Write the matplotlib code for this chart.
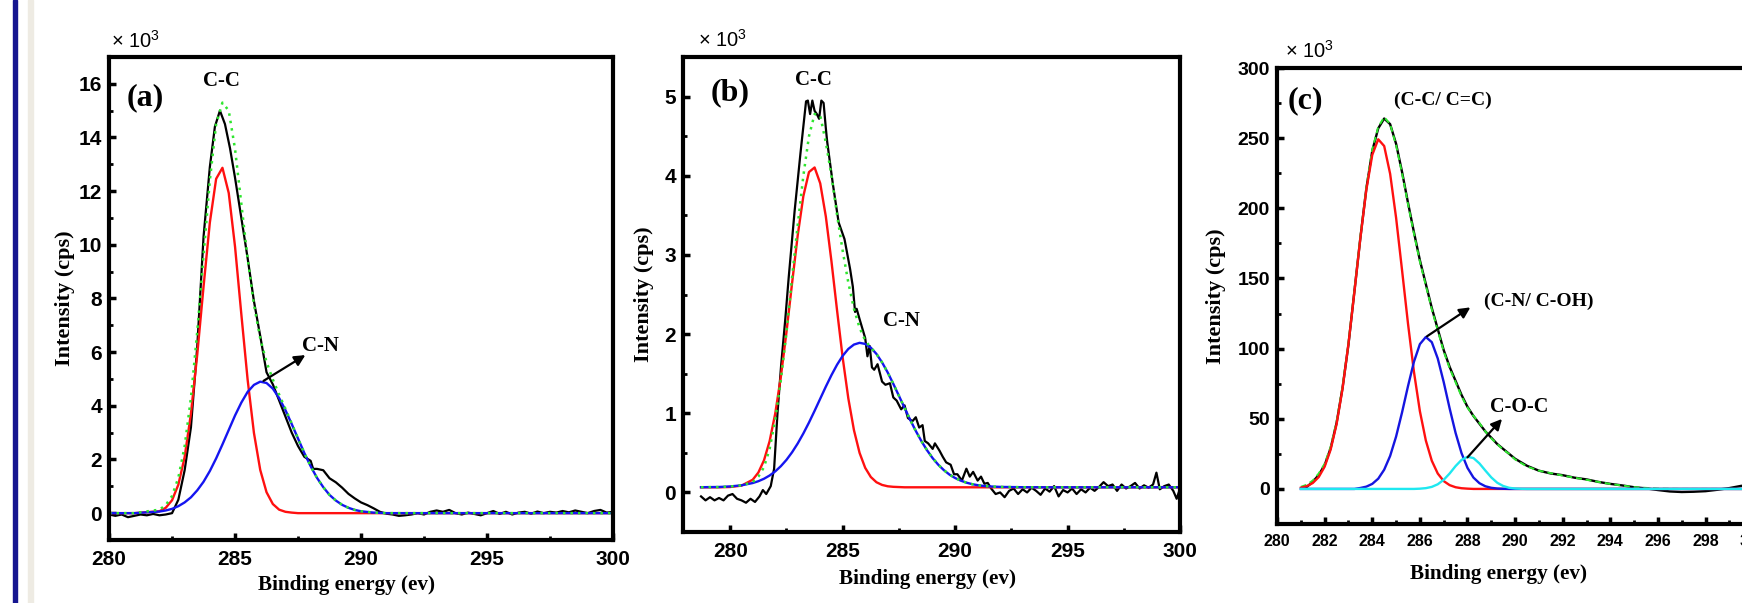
import matplotlib
matplotlib.use("Agg")
import matplotlib.pyplot as plt
from matplotlib.ticker import MultipleLocator
from matplotlib.patches import Rectangle
import numpy as np

plt.rcParams["font.family"] = ["Liberation Sans", "DejaVu Sans"]
plt.rcParams["font.weight"] = "bold"
plt.rcParams["mathtext.default"] = "regular"
SERIF = ["Liberation Serif", "DejaVu Serif"]

# ---------------- panel (a) ----------------
xa_fit = [280.0, 281.0, 282.0, 282.25, 282.5, 282.75, 283.0, 283.25, 283.5, 283.75,
          284.0, 284.25, 284.5, 284.75, 285.0, 285.25, 285.5, 285.75, 286.0, 286.25,
          286.5, 286.75, 287.0, 287.25, 287.5, 287.75, 288.0, 288.25, 288.5, 288.75,
          289.0, 289.25, 289.5, 289.75, 290.0, 290.5, 291.0, 292.0, 294.0, 296.0,
          298.0, 300.0]
red_a = [0, 0, 0.07, 0.20, 0.48, 1.06, 2.09, 3.71, 5.91, 8.44,
         10.83, 12.46, 12.87, 11.93, 9.93, 7.41, 4.97, 2.99, 1.61, 0.78,
         0.34, 0.13, 0.05, 0.02, 0, 0, 0, 0, 0, 0,
         0, 0, 0, 0, 0, 0, 0, 0, 0, 0,
         0, 0]
blue_a = [0, 0, 0.06, 0.10, 0.16, 0.26, 0.40, 0.59, 0.85, 1.17,
          1.57, 2.04, 2.56, 3.10, 3.64, 4.12, 4.52, 4.78, 4.90, 4.85,
          4.64, 4.29, 3.84, 3.32, 2.78, 2.24, 1.75, 1.32, 0.97, 0.68,
          0.47, 0.31, 0.20, 0.12, 0.07, 0.02, 0, 0, 0, 0,
          0, 0]
env_a = [0, 0, 0.13, 0.30, 0.64, 1.32, 2.49, 4.30, 6.76, 9.61,
         12.40, 14.50, 15.30, 15.00, 13.57, 11.53, 9.49, 7.77, 6.51, 5.63,
         4.98, 4.42, 3.89, 3.34, 2.78, 2.24, 1.75, 1.32, 0.97, 0.68,
         0.47, 0.31, 0.20, 0.12, 0.07, 0.02, 0, 0, 0, 0,
         0, 0]
raw_a = np.array([
    (280.0, -0.05), (280.25, -0.1), (280.5, -0.05), (280.75, -0.15), (281.0, -0.1),
    (281.25, -0.05), (281.5, -0.08), (281.75, -0.03), (282.0, -0.08), (282.25, -0.05),
    (282.5, 0.0), (282.75, 0.5), (283.0, 1.6), (283.25, 3.2), (283.5, 6.2),
    (283.75, 10.3), (284.0, 12.9), (284.2, 14.4), (284.4, 15.0), (284.6, 14.5),
    (284.8, 13.6), (285.0, 12.5), (285.25, 11.0), (285.5, 9.5), (285.75, 7.9),
    (286.0, 6.6), (286.25, 5.25), (286.5, 4.8), (286.75, 4.2), (287.0, 3.6),
    (287.25, 3.0), (287.5, 2.5), (287.75, 2.1), (288.0, 1.95), (288.1, 1.65),
    (288.25, 1.65), (288.5, 1.6), (288.75, 1.3), (289.0, 1.15), (289.25, 0.95),
    (289.5, 0.72), (289.75, 0.55), (290.0, 0.4), (290.25, 0.3), (290.5, 0.18),
    (290.75, 0.05), (291.0, -0.02), (291.25, -0.05), (291.5, -0.1), (291.75, -0.08),
    (292.0, -0.05), (292.25, 0.0), (292.5, -0.05), (292.75, 0.05), (293.0, 0.1),
    (293.25, 0.05), (293.5, 0.12), (293.75, 0.0), (294.0, -0.05), (294.25, 0.02),
    (294.5, -0.03), (294.75, -0.08), (295.0, 0.0), (295.25, 0.08), (295.5, -0.03),
    (295.75, 0.05), (296.0, -0.05), (296.25, 0.02), (296.5, 0.05), (296.75, -0.02),
    (297.0, 0.06), (297.25, 0.0), (297.5, 0.05), (297.75, 0.02), (298.0, 0.08),
    (298.25, 0.03), (298.5, 0.1), (298.75, 0.05), (299.0, 0.0), (299.25, 0.08),
    (299.5, 0.12), (299.75, 0.02), (300.0, 0.05)])

# ---------------- panel (b) ----------------
xb_fit = [278.7, 279.5, 280.0, 280.5, 281.0, 281.25, 281.5, 281.75, 282.0, 282.25,
          282.5, 282.75, 283.0, 283.25, 283.5, 283.75, 284.0, 284.25, 284.5, 284.75,
          285.0, 285.25, 285.5, 285.75, 286.0, 286.25, 286.5, 286.75, 287.0, 287.25,
          287.5, 287.75, 288.0, 288.25, 288.5, 288.75, 289.0, 289.25, 289.5, 289.75,
          290.0, 290.25, 290.5, 290.75, 291.0, 291.25, 291.5, 291.75, 292.0, 293.0,
          294.0, 295.0, 296.0, 297.0, 298.0, 299.0, 300.0]
red_b = [0.065, 0.065, 0.069, 0.086, 0.161, 0.252, 0.406, 0.648, 0.997, 1.462,
         2.027, 2.647, 3.249, 3.743, 4.047, 4.105, 3.905, 3.485, 2.919, 2.297,
         1.700, 1.188, 0.787, 0.500, 0.311, 0.195, 0.129, 0.095, 0.078, 0.071,
         0.068, 0.065, 0.065, 0.065, 0.065, 0.065, 0.065, 0.065, 0.065, 0.065,
         0.065, 0.065, 0.065, 0.065, 0.065, 0.065, 0.065, 0.065, 0.065, 0.065,
         0.065, 0.065, 0.065, 0.065, 0.065, 0.065, 0.065]
blue_b = [0.066, 0.069, 0.076, 0.090, 0.119, 0.142, 0.173, 0.214, 0.266, 0.332,
          0.412, 0.508, 0.619, 0.745, 0.883, 1.031, 1.184, 1.337, 1.482, 1.614,
          1.726, 1.813, 1.868, 1.890, 1.876, 1.829, 1.750, 1.643, 1.516, 1.372,
          1.221, 1.068, 0.918, 0.777, 0.648, 0.533, 0.433, 0.350, 0.281, 0.225,
          0.182, 0.149, 0.124, 0.105, 0.092, 0.083, 0.077, 0.073, 0.070, 0.066,
          0.065, 0.065, 0.065, 0.065, 0.065, 0.065, 0.065]
env_b = [0.066, 0.068, 0.075, 0.090, 0.130, 0.200, 0.320, 0.550, 0.920, 1.420,
         2.020, 2.720, 3.380, 4.000, 4.500, 4.780, 4.760, 4.420, 4.000, 3.500,
         3.050, 2.650, 2.320, 2.080, 1.920, 1.830, 1.750, 1.643, 1.516, 1.372,
         1.221, 1.068, 0.918, 0.777, 0.648, 0.533, 0.433, 0.350, 0.281, 0.225,
         0.182, 0.149, 0.124, 0.105, 0.092, 0.083, 0.077, 0.073, 0.070, 0.066,
         0.065, 0.065, 0.065, 0.065, 0.065, 0.065, 0.065]
raw_b = np.array([
    (278.7, -0.05), (278.9, -0.1), (279.1, -0.06), (279.3, -0.1), (279.5, -0.07),
    (279.7, -0.1), (279.9, -0.04), (280.1, -0.02), (280.3, -0.08), (280.5, -0.1),
    (280.7, -0.13), (280.9, -0.08), (281.1, -0.12), (281.3, -0.05), (281.45, 0.03),
    (281.6, -0.02), (281.8, 0.08), (281.95, 0.3), (282.1, 1.0), (282.26, 1.6),
    (282.45, 2.2), (282.6, 2.72), (282.86, 3.55), (283.12, 4.28), (283.37, 4.94),
    (283.45, 4.95), (283.55, 4.78), (283.65, 4.95), (283.75, 4.82), (283.85, 4.78),
    (283.95, 4.72), (284.05, 4.95), (284.15, 4.92), (284.25, 4.6), (284.31, 4.43),
    (284.56, 3.9), (284.82, 3.41), (285.08, 3.2), (285.33, 2.82), (285.45, 2.6),
    (285.55, 2.28), (285.62, 2.32), (285.76, 2.18), (286.0, 1.95), (286.1, 1.72),
    (286.2, 1.85), (286.3, 1.58), (286.4, 1.55), (286.55, 1.62), (286.75, 1.4),
    (286.9, 1.36), (287.1, 1.38), (287.25, 1.2), (287.4, 1.16), (287.6, 1.05),
    (287.75, 1.1), (287.9, 0.94), (288.1, 0.9), (288.25, 0.95), (288.4, 0.82),
    (288.55, 0.85), (288.65, 0.65), (288.8, 0.62), (289.0, 0.55), (289.1, 0.62),
    (289.3, 0.53), (289.45, 0.45), (289.6, 0.38), (289.8, 0.35), (289.95, 0.23),
    (290.1, 0.23), (290.3, 0.15), (290.5, 0.3), (290.65, 0.2), (290.8, 0.26),
    (291.0, 0.15), (291.15, 0.2), (291.3, 0.11), (291.45, 0.12), (291.6, 0.05),
    (291.8, -0.02), (292.0, 0.0), (292.2, -0.06), (292.4, 0.02), (292.6, 0.05),
    (292.8, -0.02), (293.0, 0.04), (293.2, 0.0), (293.4, 0.06), (293.6, 0.02),
    (293.8, -0.03), (294.0, 0.05), (294.2, 0.01), (294.4, 0.08), (294.6, -0.05),
    (294.8, 0.03), (295.0, 0.0), (295.2, 0.05), (295.4, -0.02), (295.6, 0.04),
    (295.8, 0.0), (296.0, 0.06), (296.2, 0.02), (296.4, 0.07), (296.6, 0.13),
    (296.8, 0.08), (297.0, 0.1), (297.2, 0.02), (297.4, 0.1), (297.6, 0.05),
    (297.8, 0.08), (298.0, 0.12), (298.2, 0.05), (298.4, 0.09), (298.6, 0.06),
    (298.8, 0.1), (298.95, 0.25), (299.1, 0.04), (299.3, 0.08), (299.5, 0.1),
    (299.7, 0.02), (299.85, -0.08), (300.0, 0.05)])

# ---------------- panel (c) ----------------
xc_fit = [281.0, 281.25, 281.5, 281.75, 282.0, 282.25, 282.5, 282.75, 283.0, 283.25,
          283.5, 283.75, 284.0, 284.25, 284.5, 284.75, 285.0, 285.25, 285.5, 285.75,
          286.0, 286.25, 286.5, 286.75, 287.0, 287.25, 287.5, 287.75, 288.0, 288.25,
          288.5, 288.75, 289.0, 289.25, 289.5, 289.75, 290.0, 290.25, 290.5, 291.0,
          292.0, 293.0, 294.0, 295.0, 296.0, 297.0, 298.0, 299.0, 300.0]
red_c = [0.86, 1.97, 4.21, 8.46, 15.9, 28.0, 46.2, 71.4, 103.5, 140.5,
         178.8, 213.2, 238.1, 249.2, 244.4, 224.6, 193.3, 156.0, 117.9, 83.5,
         55.4, 34.5, 20.1, 11.0, 5.6, 2.7, 1.2, 0.5, 0.2, 0,
         0, 0, 0, 0, 0, 0, 0, 0, 0, 0,
         0, 0, 0, 0, 0, 0, 0, 0, 0]
blue_c = [0, 0, 0, 0, 0, 0, 0, 0, 0, 0,
          0.68, 1.63, 3.6, 7.3, 13.7, 23.5, 37.3, 54.5, 73.2, 90.6,
          103.2, 108.3, 104.6, 93.0, 76.2, 57.4, 39.9, 25.5, 15.0, 8.1,
          4.1, 1.9, 0.8, 0.3, 0.1, 0, 0, 0, 0, 0,
          0, 0, 0, 0, 0, 0, 0, 0, 0]
cyan_c = [0, 0, 0, 0, 0, 0, 0, 0, 0, 0,
          0, 0, 0, 0, 0, 0, 0, 0, 0, 0,
          0.18, 0.56, 1.46, 3.3, 6.5, 11.0, 16.3, 20.7, 22.9, 22.0,
          18.2, 13.1, 8.2, 4.4, 2.1, 0.8, 0.3, 0.1, 0, 0,
          0, 0, 0, 0, 0, 0, 0, 0, 0]
env_c = [1.5, 3, 6, 11, 18, 30, 48, 73, 104, 142,
         180, 215, 242, 258, 265, 260, 245, 225, 203, 182,
         162, 145, 128, 113, 98, 86, 76, 66, 58, 52,
         47, 41, 36, 32, 28, 25, 21, 18.5, 16, 13,
         9.5, 6.5, 3.5, 1.3, 0.2, 0, 0, 0, 0]
raw_c = np.array([
    (281.2, 0.8), (281.5, 5), (281.75, 10), (282.0, 17), (282.25, 29), (282.5, 47),
    (282.75, 72), (283.0, 103), (283.25, 141), (283.5, 179), (283.75, 214), (284.0, 241),
    (284.25, 257), (284.5, 264), (284.75, 260), (285.0, 246), (285.25, 226), (285.5, 204),
    (285.75, 183), (286.0, 163), (286.25, 146), (286.5, 129), (286.75, 114), (287.0, 99),
    (287.25, 87), (287.5, 77), (287.75, 67), (288.0, 58.5), (288.25, 52), (288.5, 46.5),
    (288.75, 41), (289.0, 36.5), (289.25, 32), (289.5, 28.5), (289.75, 25), (290.0, 21.5),
    (290.5, 16.5), (291.0, 13), (291.5, 11), (292.0, 9.8), (292.5, 8), (293.0, 6.8),
    (293.5, 5), (294.0, 3.6), (294.5, 2.5), (295.0, 1.2), (295.5, 0.4), (296.0, -0.8),
    (296.5, -1.8), (297.0, -2.2), (297.5, -2.0), (298.0, -1.6), (298.5, -0.6),
    (299.0, 0.6), (299.5, 2.2), (300.0, 2.8)])

for xs, ys in [(xa_fit, red_a), (xa_fit, blue_a), (xa_fit, env_a),
               (xb_fit, red_b), (xb_fit, blue_b), (xb_fit, env_b),
               (xc_fit, red_c), (xc_fit, blue_c), (xc_fit, cyan_c), (xc_fit, env_c)]:
    assert len(xs) == len(ys), (len(xs), len(ys))

GREEN = "#2ee62e"
DOTS = (0, (1, 2))


def style(ax, xlim, ylim, xmaj, xmin, ymaj, ymin, xsize, ysize):
    ax.set_xlim(*xlim)
    ax.set_ylim(*ylim)
    for s in ax.spines.values():
        s.set_linewidth(3)
    ax.xaxis.set_major_locator(MultipleLocator(xmaj))
    ax.xaxis.set_minor_locator(MultipleLocator(xmin))
    ax.yaxis.set_major_locator(MultipleLocator(ymaj))
    ax.yaxis.set_minor_locator(MultipleLocator(ymin))
    ax.tick_params(which="both", direction="in", top=False, right=False)
    ax.tick_params(which="major", length=5, width=2.5)
    ax.tick_params(which="minor", length=3, width=2)
    ax.tick_params(axis="x", labelsize=xsize, pad=7)
    ax.tick_params(axis="y", labelsize=ysize, pad=5)


def labels(ax, xl_pos, yl_pos):
    ax.set_xlabel("Binding energy (ev)", fontfamily=SERIF, fontsize=15.2, fontweight="bold")
    ax.set_ylabel("Intensity (cps)", fontfamily=SERIF, fontsize=16, fontweight="bold")
    ax.xaxis.set_label_coords(*xl_pos)
    ax.yaxis.set_label_coords(*yl_pos)


def arrow(ax, tail, head):
    ax.annotate("", xy=head, xytext=tail,
                arrowprops=dict(arrowstyle="-|>", color="k", lw=1.6,
                                mutation_scale=16, shrinkA=0, shrinkB=0))


fig = plt.figure(figsize=(17.42, 6.03), dpi=100)
fig.add_artist(Rectangle((13 / 1742, 0), 4 / 1742, 1, transform=fig.transFigure,
                         color="#161690", zorder=0))
fig.add_artist(Rectangle((28 / 1742, 0), 5 / 1742, 1, transform=fig.transFigure,
                         color="#eeebe3", zorder=0))

# (a)
ax = fig.add_axes([0.0626, 0.1045, 0.2893, 0.801])
ax.plot(raw_a[:, 0], raw_a[:, 1], color="k", lw=1.6)
ax.plot(xa_fit, red_a, color="#ff1010", lw=1.7)
ax.plot(xa_fit, blue_a, color="#1515f0", lw=1.7)
ax.plot(xa_fit, env_a, color=GREEN, lw=1.8, ls=DOTS)
style(ax, (280, 300), (-1, 17), 5, 2.5, 2, 1, 15, 15)
labels(ax, (0.472, -0.072), (-0.0675, 0.5))
ax.text(0.003, 1.018, "× 10$^{3}$", transform=ax.transAxes, fontsize=14.5,
        fontweight="normal", va="baseline")
ax.text(281.45, 15.5, "(a)", fontfamily=SERIF, fontsize=23, ha="center", va="center")
ax.text(284.48, 16.1, "C-C", fontfamily=SERIF, fontsize=15, ha="center", va="center")
ax.text(288.37, 6.24, "C-N", fontfamily=SERIF, fontsize=15, ha="center", va="center")
arrow(ax, (286.13, 4.93), (287.79, 5.89))

# (b)
ax = fig.add_axes([0.3921, 0.1177, 0.2853, 0.7877])
ax.plot(raw_b[:, 0], raw_b[:, 1], color="k", lw=1.6)
ax.plot(xb_fit, red_b, color="#ff1010", lw=1.7)
ax.plot(xb_fit, blue_b, color="#1515f0", lw=1.7)
ax.plot(xb_fit, env_b, color=GREEN, lw=1.8, ls=DOTS)
style(ax, (277.9, 300), (-0.5, 5.5), 5, 2.5, 1, 0.5, 15, 15)
labels(ax, (0.4916, -0.078), (-0.058, 0.5))
ax.text(0.03, 1.021, "× 10$^{3}$", transform=ax.transAxes, fontsize=14.5,
        fontweight="normal", va="baseline")
ax.text(280.0, 5.05, "(b)", fontfamily=SERIF, fontsize=23, ha="center", va="center")
ax.text(283.71, 5.21, "C-C", fontfamily=SERIF, fontsize=15, ha="center", va="center")
ax.text(287.63, 2.16, "C-N", fontfamily=SERIF, fontsize=15, ha="center", va="center")

# (c)
ax = fig.add_axes([0.7331, 0.131, 0.2733, 0.7562])
ax.plot(raw_c[:, 0], raw_c[:, 1], color="k", lw=1.7)
ax.plot(xc_fit, env_c, color=GREEN, lw=1.4, ls=(0, (3, 2)))
ax.plot(xc_fit, red_c, color="#ff1010", lw=1.7)
ax.plot(xc_fit, blue_c, color="#1515e0", lw=1.7)
ax.plot(xc_fit, cyan_c, color="#1ee8f0", lw=1.7)
style(ax, (280, 300), (-25, 300), 2, 1, 50, 25, 11.5, 14)
labels(ax, (0.465, -0.087), (-0.107, 0.5))
ax.text(0.017, 1.0226, "× 10$^{3}$", transform=ax.transAxes, fontsize=14.5,
        fontweight="normal", va="baseline")
ax.text(281.21, 277, "(c)", fontfamily=SERIF, fontsize=23, ha="center", va="center")
ax.text(286.98, 277, "(C-C/ C=C)", fontfamily=SERIF, fontsize=14, ha="center", va="center")
ax.text(291.0, 133.5, "(C-N/ C-OH)", fontfamily=SERIF, fontsize=14, ha="center", va="center")
ax.text(290.18, 58.1, "C-O-C", fontfamily=SERIF, fontsize=14.5, ha="center", va="center")
arrow(ax, (286.3, 108.8), (288.12, 129.4))
arrow(ax, (288.0, 22.5), (289.45, 49.9))

fig.savefig("out.png", dpi=100)
